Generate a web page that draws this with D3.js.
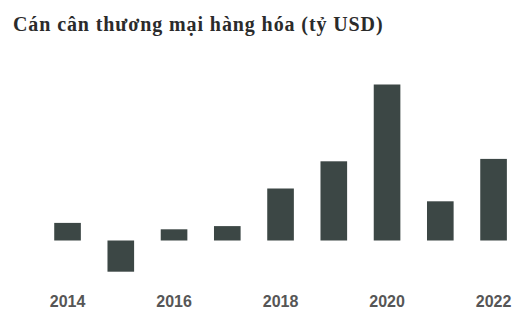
<!DOCTYPE html>
<html>
<head>
<meta charset="utf-8">
<script src="https://cdn.jsdelivr.net/npm/d3@7"></script>
<style>
  body { margin: 0; background: #fff; }
</style>
</head>
<body>
<div id="plotdiv"></div>
<script>
// data
const years = ["2014", "2015", "2016", "2017", "2018", "2019", "2020", "2021", "2022"];
const balance = [2.2, -3.9, 1.4, 1.8, 6.5, 9.9, 19.5, 4.9, 10.2];
const tickYears = ["2014", "2016", "2018", "2020", "2022"];
const title = "Cán cân thương mại hàng hóa (tỷ USD)";

const width = 512, height = 310;

const svg = d3.select("#plotdiv")
  .append("svg")
  .attr("width", width)
  .attr("height", height);

svg.append("text")
  .attr("x", 13)
  .attr("y", 31)
  .attr("font-family", "'Liberation Serif', 'Times New Roman', serif")
  .attr("font-weight", "bold")
  .attr("font-size", 20)
  .attr("letter-spacing", 0.9)
  .attr("fill", "#2b2b2b")
  .text(title);

// scales
const x = d3.scaleBand()
  .domain(years)
  .range([27.6, 533.5])
  .padding(0.5);

const y = d3.scaleLinear()
  .domain([-4, 20])
  .range([272.5, 80.5]);

svg.selectAll(".bar")
  .data(balance)
  .enter()
  .append("rect")
  .attr("class", "bar")
  .attr("x", (v, i) => x(years[i]))
  .attr("y", v => y(Math.max(0, v)))
  .attr("width", x.bandwidth())
  .attr("height", v => Math.abs(y(v) - y(0)))
  .attr("fill", "#3c4745");

// x axis
const xAxis = svg.append("g")
  .attr("transform", "translate(0,292)")
  .call(d3.axisBottom(x).tickValues(tickYears).tickSize(0).tickPadding(4));

xAxis.select(".domain").remove();
xAxis.selectAll("text")
  .attr("font-family", "'Liberation Sans', Arial, sans-serif")
  .attr("font-size", 16)
  .attr("font-weight", "bold")
  .attr("fill", "#565656");
</script>
</body>
</html>
